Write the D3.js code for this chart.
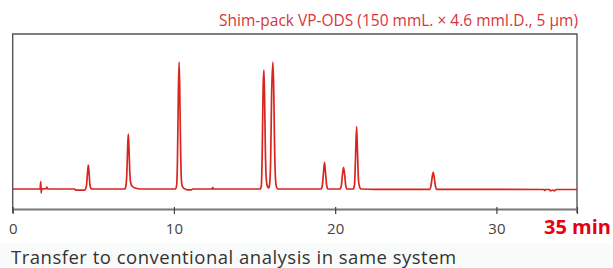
<!DOCTYPE html>
<html>
<head>
<meta charset="utf-8">
<title>Shim-pack VP-ODS chromatogram</title>
<script src="https://cdn.jsdelivr.net/npm/d3@7"></script>
<style>
  body { margin: 0; background: #fff; }
  svg { display: block; font-family: "Open Sans", "Noto Sans", sans-serif; }
</style>
</head>
<body>
<div id="chart"></div>
<script>
// chromatogram trace: [time (min), signal (arb. units)]
var trace = [
  [0, 0], [1.70, 0], [1.74, 7.5], [1.77, -4], [1.80, 0.5], [1.86, 0],
  [2.08, 0.5], [2.12, 2], [2.16, 0], [3.85, 0], [3.90, -1.2], [4.45, -1.2], [4.52, 0],
  [4.58, 4], [4.64, 16], [4.69, 24], [4.74, 16], [4.79, 4], [4.86, 0.5], [4.95, 0],
  [6.95, 0], [7.02, 3], [7.08, 16], [7.13, 42], [7.17, 55], [7.21, 42], [7.26, 18],
  [7.32, 6], [7.42, 2.5], [7.60, 1], [7.90, 0],
  [10.10, 0], [10.17, 4], [10.22, 30], [10.27, 90], [10.32, 127], [10.36, 100],
  [10.40, 55], [10.45, 14], [10.50, 4], [10.58, 1], [10.70, 0], [10.85, -0.8],
  [11.10, -0.8], [11.15, 0],
  [12.37, 0], [12.41, 1.5], [12.45, 0],
  [15.35, 0], [15.42, 3], [15.48, 40], [15.53, 100], [15.58, 119], [15.62, 95],
  [15.67, 40], [15.72, 12], [15.79, 3], [15.87, 1], [15.93, 4], [16.00, 30],
  [16.06, 95], [16.14, 127], [16.19, 100], [16.24, 45], [16.30, 10], [16.36, 2], [16.45, 0],
  [19.12, 0], [19.20, 3], [19.27, 15], [19.34, 26.7], [19.41, 15], [19.48, 3], [19.56, 0],
  [20.30, 0], [20.38, 3], [20.45, 14], [20.52, 21.7], [20.59, 14], [20.66, 3], [20.74, 0],
  [21.12, 0], [21.20, 4], [21.26, 30], [21.33, 62.3], [21.39, 35], [21.45, 8], [21.52, 2],
  [21.60, 0], [22.5, -0.4],
  [25.85, -0.4], [25.94, 3], [26.01, 11], [26.08, 16.7], [26.15, 11], [26.22, 3], [26.30, -0.4],
  [32.95, -0.5], [33.00, -1.5], [33.05, -0.5], [33.30, -0.5], [33.35, -1.8], [33.50, -1.2],
  [33.60, -1.8], [33.70, -0.5], [35, -0.5]
];

var xTicks = [0, 10, 20, 30, 35];
var title = "Shim-pack VP-ODS (150 mmL. \u00d7 4.6 mmI.D., 5 \u03bcm)";
var unitLabel = "35 min";
var caption = "Transfer to conventional analysis in same system";

var W = 613, H = 268;
var mLeft = 12.7, mRight = 577, mTop = 34, axisY = 209;

var svg = d3.select("#chart").append("svg")
    .attr("width", W)
    .attr("height", H);

// faint tint behind the caption
svg.append("rect")
    .attr("x", 0).attr("y", 243)
    .attr("width", W).attr("height", H - 243)
    .attr("fill", "#f9fafa");

var x = d3.scaleLinear().domain([0, 35]).range([mLeft, mRight]);
var y = d3.scaleLinear().domain([-20, 155]).range([axisY, mTop]);

// frame: top, left and right sides
svg.append("path")
    .attr("d", "M" + mLeft + "," + (axisY + 4) + "V" + mTop + "H" + mRight + "V" + (axisY + 4))
    .attr("fill", "none")
    .attr("stroke", "#555")
    .attr("stroke-width", 1.4);

var xAxis = d3.axisBottom(x)
    .tickValues(xTicks)
    .tickSize(5)
    .tickSizeOuter(0)
    .tickPadding(9)
    .tickFormat(function(d) { return d === 35 ? "" : d; });

var gx = svg.append("g")
    .attr("transform", "translate(0," + axisY + ")")
    .call(xAxis);
gx.select(".domain").attr("stroke", "#777").attr("stroke-width", 1.8);
gx.selectAll(".tick line").attr("stroke", "#444").attr("stroke-width", 1.2)
    .attr("y1", -2);
gx.selectAll(".tick text")
    .attr("fill", "#444")
    .style("font-family", "'Open Sans', sans-serif")
    .style("font-size", "15px");

// trace
var line = d3.line()
    .x(function(d) { return x(d[0]); })
    .y(function(d) { return y(d[1]); })
    .curve(d3.curveMonotoneX);

svg.append("path")
    .datum(trace)
    .attr("d", line)
    .attr("fill", "none")
    .attr("stroke", "#d8261f")
    .attr("stroke-width", 1.7)
    .attr("stroke-linejoin", "round");

// texts
svg.append("text")
    .attr("x", mRight + 1)
    .attr("y", 26)
    .attr("text-anchor", "end")
    .attr("fill", "#d9333b")
    .style("font-size", "15.5px")
    .text(title);

svg.append("text")
    .attr("x", 544)
    .attr("y", 234)
    .attr("fill", "#e60012")
    .style("font-size", "20px")
    .style("font-weight", "bold")
    .text(unitLabel);

svg.append("text")
    .attr("x", 11)
    .attr("y", 264)
    .attr("fill", "#333")
    .style("font-size", "18.5px")
    .style("letter-spacing", "0.5px")
    .text(caption);
</script>
</body>
</html>
